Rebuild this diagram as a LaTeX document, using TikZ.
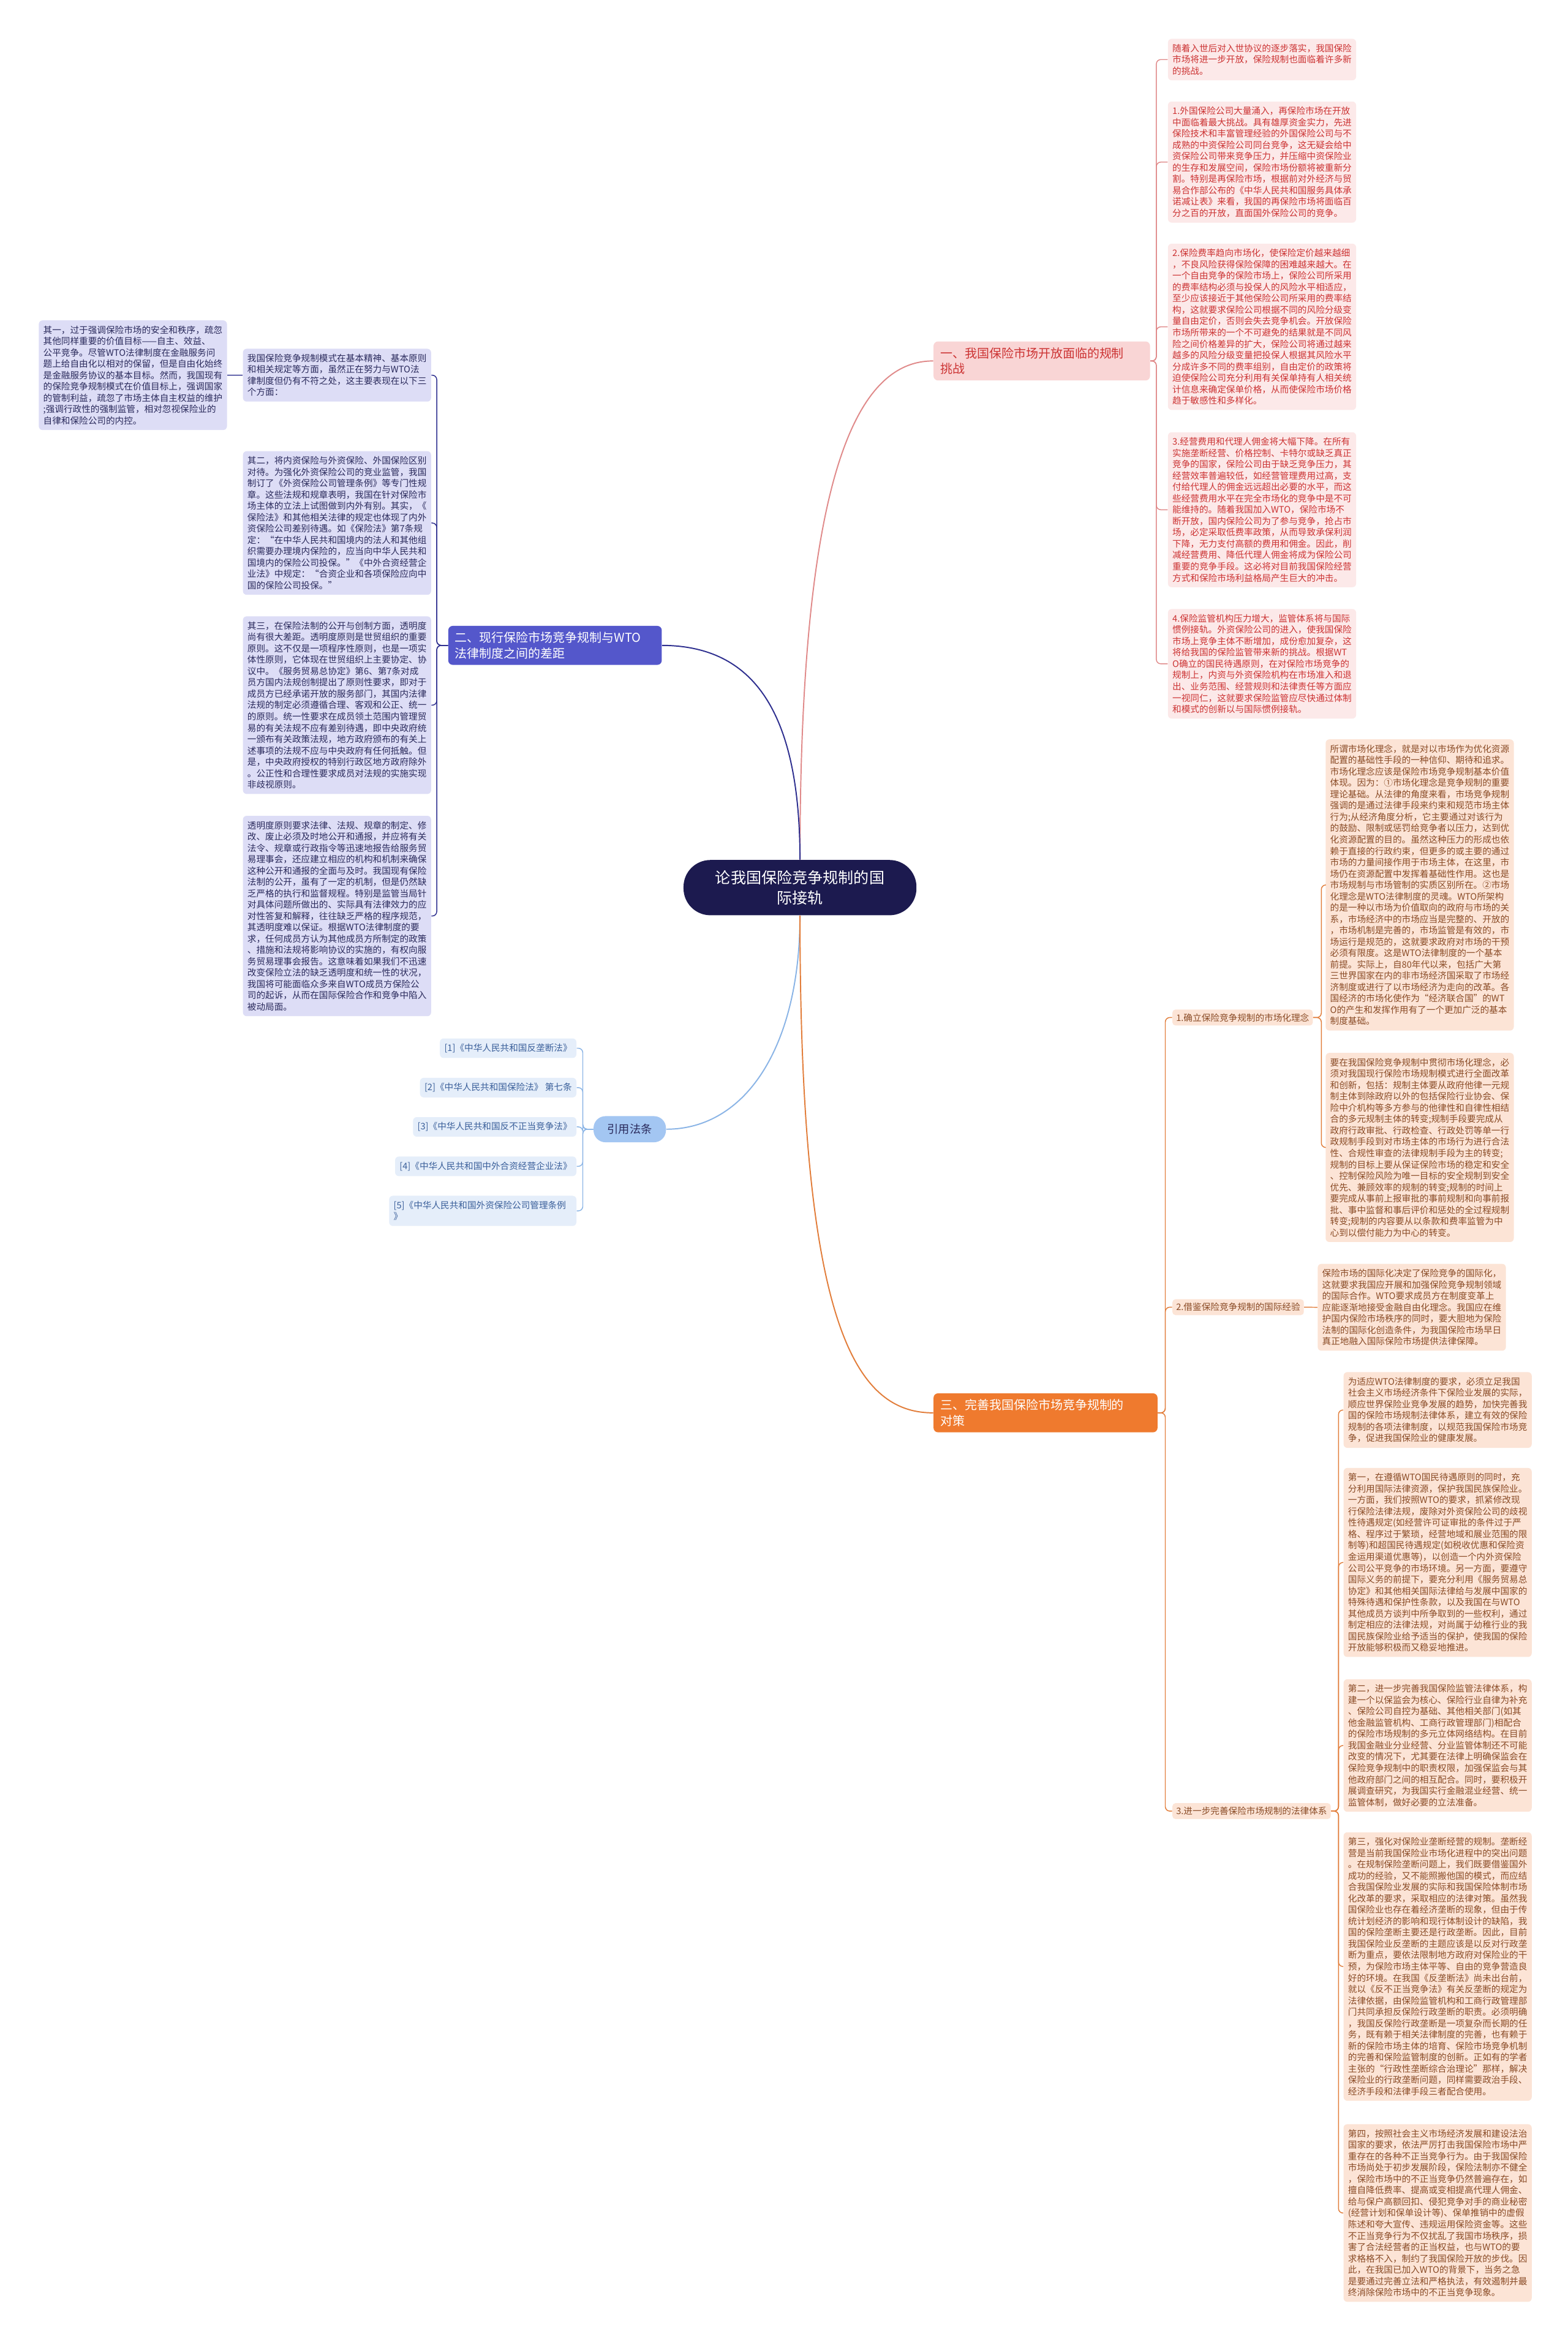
\documentclass[tikz,border=0pt]{standalone}
\usepackage{fontspec}
\setmainfont{Noto Sans CJK SC}
\definecolor{rootfill}{HTML}{1C1A4F}
\definecolor{redfill}{HTML}{FCE9E9}
\definecolor{redtext}{HTML}{CC3333}
\definecolor{redline}{HTML}{E08A8A}
\definecolor{redtopic}{HTML}{F9D5D5}
\definecolor{purplefill}{HTML}{DDDDF6}
\definecolor{purpletext}{HTML}{2A2A5C}
\definecolor{purpleline}{HTML}{2E2F8F}
\definecolor{purpletopic}{HTML}{5457CB}
\definecolor{bluefill}{HTML}{E5EEFA}
\definecolor{bluetext}{HTML}{3A5F9A}
\definecolor{blueline}{HTML}{8AB4E6}
\definecolor{bluetopic}{HTML}{A3C6F2}
\definecolor{orangefill}{HTML}{FCE4D6}
\definecolor{orangetext}{HTML}{8A4B26}
\definecolor{orangeline}{HTML}{E27D3A}
\definecolor{orangetopic}{HTML}{EF7A2E}
\begin{document}
\begin{tikzpicture}[x=1pt,y=-1pt,
  rootnode/.style={fill=rootfill,text=white,rounded corners=18pt,align=center,minimum width=156pt,minimum height=37pt,inner sep=0pt,font=\fontsize{10.3}{13.7}\selectfont},
  topic/.style={anchor=north west,rounded corners=3pt,align=left,inner xsep=4.5pt,inner ysep=4pt,font=\fontsize{8.2}{10.5}\selectfont},
  box/.style={anchor=north west,rounded corners=2.5pt,align=left,inner xsep=3pt,inner ysep=3.5pt,text width=120pt,font=\fontsize{6}{7.6}\selectfont},
  redbox/.style={box,fill=redfill,text=redtext},
  purplebox/.style={box,fill=purplefill,text=purpletext},
  orangebox/.style={box,fill=orangefill,text=orangetext},
  refbox/.style={anchor=north east,rounded corners=2.5pt,align=left,inner xsep=3pt,inner ysep=3.5pt,fill=bluefill,text=bluetext,font=\fontsize{6}{7.6}\selectfont},
  sublabel/.style={anchor=west,rounded corners=2pt,inner xsep=2.5pt,inner ysep=2.5pt,fill=orangefill,text=orangetext,font=\fontsize{6}{7.6}\selectfont},
  mainline/.style={line width=0.8pt},
  subline/.style={line width=0.6pt,rounded corners=3pt}]
\useasboundingbox[fill=white] (0,0) rectangle (1050,1568.6);

\node[rootnode] (root) at (535.75,594.5) {论我国保险竞争规制的国\\际接轨};

\node[topic,fill=redtopic,text=redtext,text width=136pt] (b1) at (625,228.5) {一、我国保险市场开放面临的规制\\挑战};
\node[topic,fill=purpletopic,text=white,text width=134pt] (b2) at (300,419) {二、现行保险市场竞争规制与WTO\\法律制度之间的差距};
\node[topic,fill=orangetopic,text=white,text width=141pt] (b3) at (625,933) {三、完善我国保险市场竞争规制的\\对策};
\node[fill=bluetopic,text=purpletext,rounded corners=8pt,minimum width=48.5pt,minimum height=17.5pt,inner sep=0pt,font=\fontsize{7.5}{9}\selectfont] (laws) at (421.75,756.3) {引用法条};

\draw[mainline,redline] (root.north) .. controls (535.75,330) and (570,241.5) .. (b1.west);
\draw[mainline,purpleline] (root.north) .. controls (535.75,470) and (500,432.5) .. (b2.east);
\draw[mainline,blueline] (root.south) .. controls (535.75,700) and (500,756.3) .. (laws.east);
\draw[mainline,orangeline] (root.south) .. controls (535.75,880) and (570,946.5) .. (b3.west);

\node[redbox] (c0) at (782,25.8) {随着入世后对入世协议的逐步落实，我国保险\\市场将进一步开放，保险规制也面临着许多新\\的挑战。};
\node[redbox] (c1) at (782,67.8) {1.外国保险公司大量涌入，再保险市场在开放\\中面临着最大挑战。具有雄厚资金实力，先进\\保险技术和丰富管理经验的外国保险公司与不\\成熟的中资保险公司同台竞争，这无疑会给中\\资保险公司带来竞争压力，并压缩中资保险业\\的生存和发展空间，保险市场份额将被重新分\\割。特别是再保险市场，根据前对外经济与贸\\易合作部公布的《中华人民共和国服务具体承\\诺减让表》来看，我国的再保险市场将面临百\\分之百的开放，直面国外保险公司的竞争。};
\node[redbox] (c2) at (782,163) {2.保险费率趋向市场化，使保险定价越来越细\\，不良风险获得保险保障的困难越来越大。在\\一个自由竞争的保险市场上，保险公司所采用\\的费率结构必须与投保人的风险水平相适应，\\至少应该接近于其他保险公司所采用的费率结\\构，这就要求保险公司根据不同的风险分级变\\量自由定价，否则会失去竞争机会。开放保险\\市场所带来的一个不可避免的结果就是不同风\\险之间价格差异的扩大，保险公司将通过越来\\越多的风险分级变量把投保人根据其风险水平\\分成许多不同的费率组别，自由定价的政策将\\迫使保险公司充分利用有关保单持有人相关统\\计信息来确定保单价格，从而使保险市场价格\\趋于敏感性和多样化。};
\node[redbox] (c3) at (782,289.3) {3.经营费用和代理人佣金将大幅下降。在所有\\实施垄断经营、价格控制、卡特尔或缺乏真正\\竞争的国家，保险公司由于缺乏竞争压力，其\\经营效率普遍较低，如经营管理费用过高，支\\付给代理人的佣金远远超出必要的水平，而这\\些经营费用水平在完全市场化的竞争中是不可\\能维持的。随着我国加入WTO，保险市场不\\断开放，国内保险公司为了参与竞争，抢占市\\场，必定采取低费率政策，从而导致承保利润\\下降，无力支付高额的费用和佣金。因此，削\\减经营费用、降低代理人佣金将成为保险公司\\重要的竞争手段。这必将对目前我国保险经营\\方式和保险市场利益格局产生巨大的冲击。};
\node[redbox] (c4) at (782,407.7) {4.保险监管机构压力增大，监管体系将与国际\\惯例接轨。外资保险公司的进入，使我国保险\\市场上竞争主体不断增加，成份愈加复杂，这\\将给我国的保险监管带来新的挑战。根据WT\\O确立的国民待遇原则，在对保险市场竞争的\\规制上，内资与外资保险机构在市场准入和退\\出、业务范围、经营规则和法律责任等方面应\\一视同仁，这就要求保险监管应尽快通过体制\\和模式的创新以与国际惯例接轨。};
\draw[subline,redline] (b1.east) -- ++(4,0) |- (c0.west);
\draw[subline,redline] (b1.east) -- ++(4,0) |- (c1.west);
\draw[subline,redline] (b1.east) -- ++(4,0) |- (c2.west);
\draw[subline,redline] (b1.east) -- ++(4,0) |- (c3.west);
\draw[subline,redline] (b1.east) -- ++(4,0) |- (c4.west);

\node[purplebox] (p0) at (162.5,233.4) {我国保险竞争规制模式在基本精神、基本原则\\和相关规定等方面，虽然正在努力与WTO法\\律制度但仍有不符之处，这主要表现在以下三\\个方面：};
\node[purplebox] (p00) at (25.8,214.4) {其一，过于强调保险市场的安全和秩序，疏忽\\其他同样重要的价值目标——自主、效益、\\公平竞争。尽管WTO法律制度在金融服务问\\题上给自由化以相对的保留，但是自由化始终\\是金融服务协议的基本目标。然而，我国现有\\的保险竞争规制模式在价值目标上，强调国家\\的管制利益，疏忽了市场主体自主权益的维护\\;强调行政性的强制监管，相对忽视保险业的\\自律和保险公司的内控。};
\node[purplebox] (p1) at (162.5,302) {其二，将内资保险与外资保险、外国保险区别\\对待。为强化外资保险公司的竞业监管，我国\\制订了《外资保险公司管理条例》等专门性规\\章。这些法规和规章表明，我国在针对保险市\\场主体的立法上试图做到内外有别。其实，《\\保险法》和其他相关法律的规定也体现了内外\\资保险公司差别待遇。如《保险法》第7条规\\定：“在中华人民共和国境内的法人和其他组\\织需要办理境内保险的，应当向中华人民共和\\国境内的保险公司投保。”《中外合资经营企\\业法》中规定：“合资企业和各项保险应向中\\国的保险公司投保。”};
\node[purplebox] (p2) at (162.5,412.6) {其三，在保险法制的公开与创制方面，透明度\\尚有很大差距。透明度原则是世贸组织的重要\\原则。这不仅是一项程序性原则，也是一项实\\体性原则，它体现在世贸组织上主要协定、协\\议中。《服务贸易总协定》第6、第7条对成\\员方国内法规创制提出了原则性要求，即对于\\成员方已经承诺开放的服务部门，其国内法律\\法规的制定必须遵循合理、客观和公正、统一\\的原则。统一性要求在成员领土范围内管理贸\\易的有关法规不应有差别待遇，即中央政府统\\一颁布有关政策法规，地方政府颁布的有关上\\述事项的法规不应与中央政府有任何抵触。但\\是，中央政府授权的特别行政区地方政府除外\\。公正性和合理性要求成员对法规的实施实现\\非歧视原则。};
\node[purplebox] (p3) at (162.5,546.2) {透明度原则要求法律、法规、规章的制定、修\\改、废止必须及时地公开和通报，并应将有关\\法令、规章或行政指令等迅速地报告给服务贸\\易理事会，还应建立相应的机构和机制来确保\\这种公开和通报的全面与及时。我国现有保险\\法制的公开，虽有了一定的机制，但是仍然缺\\乏严格的执行和监督规程。特别是监管当局针\\对具体问题所做出的、实际具有法律效力的应\\对性答复和解释，往往缺乏严格的程序规范，\\其透明度难以保证。根据WTO法律制度的要\\求，任何成员方认为其他成员方所制定的政策\\、措施和法规将影响协议的实施的，有权向服\\务贸易理事会报告。这意味着如果我们不迅速\\改变保险立法的缺乏透明度和统一性的状况，\\我国将可能面临众多来自WTO成员方保险公\\司的起诉，从而在国际保险合作和竞争中陷入\\被动局面。};
\draw[subline,purpleline] (b2.west) -- ++(-7.5,0) |- (p0.east);
\draw[subline,purpleline] (b2.west) -- ++(-7.5,0) |- (p1.east);
\draw[subline,purpleline] (b2.west) -- ++(-7.5,0) |- (p2.east);
\draw[subline,purpleline] (b2.west) -- ++(-7.5,0) |- (p3.east);
\draw[subline,purpleline] (p0.west) -- (p00.east);

\node[refbox] (r1) at (386.2,695.3) {[1]《中华人民共和国反垄断法》};
\node[refbox] (r2) at (386.2,721.7) {[2]《中华人民共和国保险法》 第七条};
\node[refbox] (r3) at (386.2,748) {[3]《中华人民共和国反不正当竞争法》};
\node[refbox] (r4) at (386.2,774.4) {[4]《中华人民共和国中外合资经营企业法》};
\node[refbox,text width=119.4pt] (r5) at (386.2,800.7) {[5]《中华人民共和国外资保险公司管理条例\\》};
\draw[subline,blueline] (laws.west) -- ++(-7,0) |- (r1.east);
\draw[subline,blueline] (laws.west) -- ++(-7,0) |- (r2.east);
\draw[subline,blueline] (laws.west) -- ++(-7,0) |- (r3.east);
\draw[subline,blueline] (laws.west) -- ++(-7,0) |- (r4.east);
\draw[subline,blueline] (laws.west) -- ++(-7,0) |- (r5.east);

\node[sublabel] (s1) at (785,681.5) {1.确立保险竞争规制的市场化理念};
\node[sublabel] (s2) at (785,875.5) {2.借鉴保险竞争规制的国际经验};
\node[sublabel] (s3) at (785,1213) {3.进一步完善保险市场规制的法律体系};
\draw[subline,orangeline] (b3.east) -- ++(5,0) |- (s1.west);
\draw[subline,orangeline] (b3.east) -- ++(5,0) |- (s2.west);
\draw[subline,orangeline] (b3.east) -- ++(5,0) |- (s3.west);

\node[orangebox] (o0) at (887.6,495) {所谓市场化理念，就是对以市场作为优化资源\\配置的基础性手段的一种信仰、期待和追求。\\市场化理念应该是保险市场竞争规制基本价值\\体现。因为：①市场化理念是竞争规制的重要\\理论基础。从法律的角度来看，市场竞争规制\\强调的是通过法律手段来约束和规范市场主体\\行为;从经济角度分析，它主要通过对该行为\\的鼓励、限制或惩罚给竞争者以压力，达到优\\化资源配置的目的。虽然这种压力的形成也依\\赖于直接的行政约束，但更多的或主要的通过\\市场的力量间接作用于市场主体，在这里，市\\场仍在资源配置中发挥着基础性作用。这也是\\市场规制与市场管制的实质区别所在。②市场\\化理念是WTO法律制度的灵魂。WTO所架构\\的是一种以市场为价值取向的政府与市场的关\\系，市场经济中的市场应当是完整的、开放的\\，市场机制是完善的，市场监管是有效的，市\\场运行是规范的，这就要求政府对市场的干预\\必须有限度。这是WTO法律制度的一个基本\\前提。实际上，自80年代以来，包括广大第\\三世界国家在内的非市场经济国采取了市场经\\济制度或进行了以市场经济为走向的改革。各\\国经济的市场化使作为“经济联合国”的WT\\O的产生和发挥作用有了一个更加广泛的基本\\制度基础。};
\node[orangebox] (o1) at (887.6,705) {要在我国保险竞争规制中贯彻市场化理念，必\\须对我国现行保险市场规制模式进行全面改革\\和创新，包括：规制主体要从政府他律一元规\\制主体到除政府以外的包括保险行业协会、保\\险中介机构等多方参与的他律性和自律性相结\\合的多元规制主体的转变;规制手段要完成从\\政府行政审批、行政检查、行政处罚等单一行\\政规制手段到对市场主体的市场行为进行合法\\性、合规性审查的法律规制手段为主的转变;\\规制的目标上要从保证保险市场的稳定和安全\\、控制保险风险为唯一目标的安全规制到安全\\优先、兼顾效率的规制的转变;规制的时间上\\要完成从事前上报审批的事前规制和向事前报\\批、事中监督和事后评价和惩处的全过程规制\\转变;规制的内容要从以条款和费率监管为中\\心到以偿付能力为中心的转变。};
\node[orangebox] (o2) at (882.3,846.3) {保险市场的国际化决定了保险竞争的国际化，\\这就要求我国应开展和加强保险竞争规制领域\\的国际合作。WTO要求成员方在制度变革上\\应能逐渐地接受金融自由化理念。我国应在维\\护国内保险市场秩序的同时，要大胆地为保险\\法制的国际化创造条件，为我国保险市场早日\\真正地融入国际保险市场提供法律保障。};
\draw[subline,orangeline] (s1.east) -- ++(5.5,0) |- (o0.west);
\draw[subline,orangeline] (s1.east) -- ++(5.5,0) |- (o1.west);
\draw[subline,orangeline] (s2.east) -- (o2.west);

\node[orangebox] (o3) at (899.6,918.8) {为适应WTO法律制度的要求，必须立足我国\\社会主义市场经济条件下保险业发展的实际，\\顺应世界保险业竞争发展的趋势，加快完善我\\国的保险市场规制法律体系，建立有效的保险\\规制的各项法律制度，以规范我国保险市场竞\\争，促进我国保险业的健康发展。};
\node[orangebox] (o4) at (899.6,983) {第一，在遵循WTO国民待遇原则的同时，充\\分利用国际法律资源，保护我国民族保险业。\\一方面，我们按照WTO的要求，抓紧修改现\\行保险法律法规，废除对外资保险公司的歧视\\性待遇规定(如经营许可证审批的条件过于严\\格、程序过于繁琐，经营地域和展业范围的限\\制等)和超国民待遇规定(如税收优惠和保险资\\金运用渠道优惠等)，以创造一个内外资保险\\公司公平竞争的市场环境。另一方面，要遵守\\国际义务的前提下，要充分利用《服务贸易总\\协定》和其他相关国际法律给与发展中国家的\\特殊待遇和保护性条款，以及我国在与WTO\\其他成员方谈判中所争取到的一些权利，通过\\制定相应的法律法规，对尚属于幼稚行业的我\\国民族保险业给予适当的保护，使我国的保险\\开放能够积极而又稳妥地推进。};
\node[orangebox] (o5) at (899.6,1124.5) {第二，进一步完善我国保险监管法律体系，构\\建一个以保监会为核心、保险行业自律为补充\\、保险公司自控为基础、其他相关部门(如其\\他金融监管机构、工商行政管理部门)相配合\\的保险市场规制的多元立体网络结构。在目前\\我国金融业分业经营、分业监管体制还不可能\\改变的情况下，尤其要在法律上明确保监会在\\保险竞争规制中的职责权限，加强保监会与其\\他政府部门之间的相互配合。同时，要积极开\\展调查研究，为我国实行金融混业经营、统一\\监管体制，做好必要的立法准备。};
\node[orangebox] (o6) at (899.6,1227) {第三，强化对保险业垄断经营的规制。垄断经\\营是当前我国保险业市场化进程中的突出问题\\。在规制保险垄断问题上，我们既要借鉴国外\\成功的经验，又不能照搬他国的模式，而应结\\合我国保险业发展的实际和我国保险体制市场\\化改革的要求，采取相应的法律对策。虽然我\\国保险业也存在着经济垄断的现象，但由于传\\统计划经济的影响和现行体制设计的缺陷，我\\国的保险垄断主要还是行政垄断。因此，目前\\我国保险业反垄断的主题应该是以反对行政垄\\断为重点，要依法限制地方政府对保险业的干\\预，为保险市场主体平等、自由的竞争营造良\\好的环境。在我国《反垄断法》尚未出台前，\\就以《反不正当竞争法》有关反垄断的规定为\\法律依据，由保险监管机构和工商行政管理部\\门共同承担反保险行政垄断的职责。必须明确\\，我国反保险行政垄断是一项复杂而长期的任\\务，既有赖于相关法律制度的完善，也有赖于\\新的保险市场主体的培育、保险市场竞争机制\\的完善和保险监管制度的创新。正如有的学者\\主张的“行政性垄断综合治理论”那样，解决\\保险业的行政垄断问题，同样需要政治手段、\\经济手段和法律手段三者配合使用。};
\node[orangebox] (o7) at (899.6,1422.5) {第四，按照社会主义市场经济发展和建设法治\\国家的要求，依法严厉打击我国保险市场中严\\重存在的各种不正当竞争行为。由于我国保险\\市场尚处于初步发展阶段，保险法制亦不健全\\，保险市场中的不正当竞争仍然普遍存在，如\\擅自降低费率、提高或变相提高代理人佣金、\\给与保户高额回扣、侵犯竞争对手的商业秘密\\(经营计划和保单设计等)、保单推销中的虚假\\陈述和夸大宣传、违规运用保险资金等。这些\\不正当竞争行为不仅扰乱了我国市场秩序，损\\害了合法经营者的正当权益，也与WTO的要\\求格格不入，制约了我国保险开放的步伐。因\\此，在我国已加入WTO的背景下，当务之急\\是要通过完善立法和严格执法，有效遏制并最\\终消除保险市场中的不正当竞争现象。};
\draw[subline,orangeline] (s3.east) -- ++(5,0) |- (o3.west);
\draw[subline,orangeline] (s3.east) -- ++(5,0) |- (o4.west);
\draw[subline,orangeline] (s3.east) -- ++(5,0) |- (o5.west);
\draw[subline,orangeline] (s3.east) -- ++(5,0) |- (o6.west);
\draw[subline,orangeline] (s3.east) -- ++(5,0) |- (o7.west);
\end{tikzpicture}
\end{document}
